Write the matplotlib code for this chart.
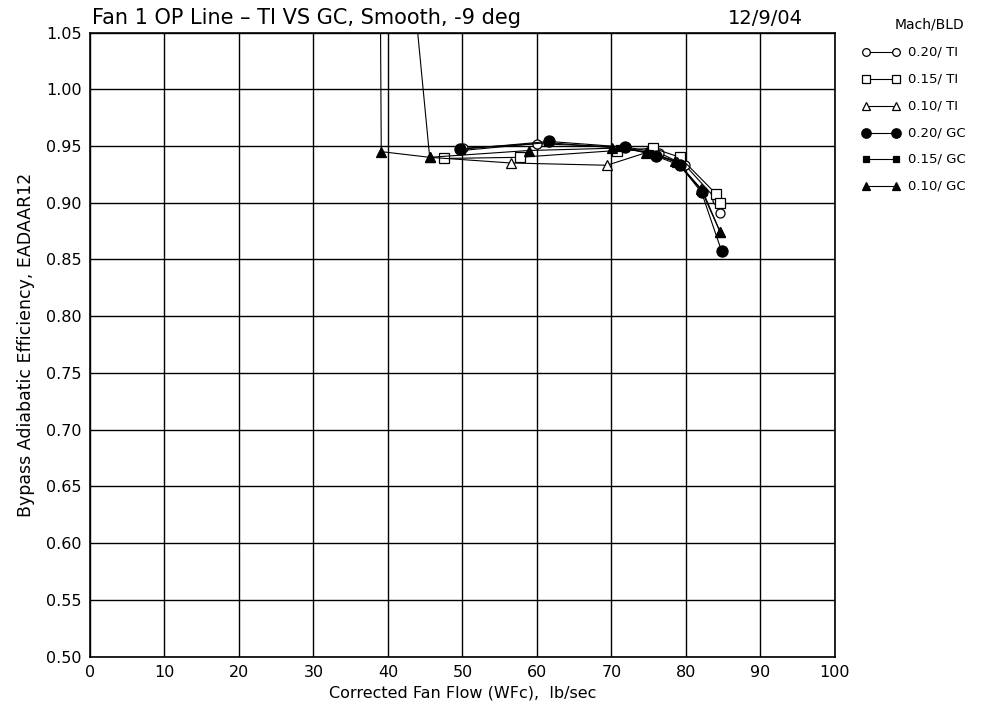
import matplotlib
matplotlib.use("Agg")
import matplotlib.pyplot as plt
from matplotlib.lines import Line2D

# Data (x = corrected fan flow, y = efficiency)
# points above 1.05 are off-scale and only show up as clipped lines
ti20_x = [50.1, 60.0, 72.0, 76.4, 79.9, 84.2, 84.6]
ti20_y = [0.948, 0.952, 0.949, 0.944, 0.933, 0.902, 0.891]

ti15_x = [47.5, 57.7, 70.7, 75.6, 79.2, 84.0, 84.6]
ti15_y = [0.939, 0.940, 0.946, 0.948, 0.940, 0.908, 0.900]

ti10_x = [37.4, 45.6, 56.5, 69.4, 74.6, 78.8, 82.2, 84.6]
ti10_y = [1.50, 0.940, 0.935, 0.933, 0.944, 0.936, 0.911, 0.874]

gc20_x = [49.7, 61.6, 71.8, 76.0, 79.2, 82.1, 84.8]
gc20_y = [0.947, 0.954, 0.949, 0.941, 0.933, 0.909, 0.857]

gc15_x = [49.9, 61.4, 71.0, 75.2, 79.0, 82.2]
gc15_y = [0.946, 0.953, 0.948, 0.944, 0.935, 0.910]

gc10_x = [38.6, 39.1, 45.6, 58.9, 70.1, 74.8, 78.5, 82.0, 84.6]
gc10_y = [1.50, 0.945, 0.940, 0.946, 0.948, 0.945, 0.937, 0.912, 0.874]

labels = ["0.20/ TI", "0.15/ TI", "0.10/ TI", "0.20/ GC", "0.15/ GC", "0.10/ GC"]
x_ticks = list(range(0, 101, 10))
y_ticks = [0.50, 0.55, 0.60, 0.65, 0.70, 0.75, 0.80, 0.85, 0.90, 0.95, 1.00, 1.05]

plt.rcParams['font.family'] = ['DejaVu Sans']

fig = plt.figure(figsize=(9.94, 7.13), dpi=100)
ax = fig.add_axes([0.0905, 0.0792, 0.7495, 0.8752])

styles = [
    dict(marker='o', ms=6.5, mfc='white', mec='black'),
    dict(marker='s', ms=6.5, mfc='white', mec='black'),
    dict(marker='^', ms=7, mfc='white', mec='black'),
    dict(marker='o', ms=8, mfc='black', mec='black'),
    dict(marker='s', ms=4.5, mfc='black', mec='black'),
    dict(marker='^', ms=7, mfc='black', mec='black'),
]
series = [(ti20_x, ti20_y), (ti15_x, ti15_y), (ti10_x, ti10_y),
          (gc20_x, gc20_y), (gc15_x, gc15_y), (gc10_x, gc10_y)]

for (xs, ys), st in zip(series, styles):
    ax.plot(xs, ys, color='black', lw=0.8, mew=0.9, zorder=3, **st)

ax.set_xlim(0, 100)
ax.set_ylim(0.50, 1.05)
ax.set_xticks(x_ticks)
ax.set_yticks(y_ticks)
ax.set_yticklabels([f"{v:.2f}" for v in y_ticks])
ax.grid(True, color='black', lw=1.0)
ax.tick_params(length=0, labelsize=11.5, pad=6)
for sp in ax.spines.values():
    sp.set_linewidth(1.2)

ax.set_xlabel("Corrected Fan Flow (WFc),  lb/sec", fontsize=11.5, labelpad=4)
ax.set_ylabel("Bypass Adiabatic Efficiency, EADAAR12", fontsize=12.5, labelpad=8)

fig.text(92 / 994, 1 - 18 / 713, "Fan 1 OP Line \u2013 TI VS GC, Smooth, -9 deg",
         fontsize=15, va='center', ha='left')
fig.text(803 / 994, 1 - 18 / 713, "12/9/04", fontsize=14, va='center', ha='right')

# legend drawn by hand to the right of the axes
fig.text(930 / 994, 1 - 25 / 713, "Mach/BLD", fontsize=10, ha='center', va='center')
leg_y = [52, 79, 106, 133, 159, 186]
for py, st, lab in zip(leg_y, styles, labels):
    yy = 1 - py / 713
    fig.add_artist(Line2D([866 / 994, 896 / 994], [yy, yy], color='black', lw=0.8,
                          mew=0.9, transform=fig.transFigure,
                          **{k: (v * 0.85 if k == 'ms' else v) for k, v in st.items()}))
    fig.text(908 / 994, yy, lab, fontsize=9.5, va='center', ha='left')

fig.savefig("out.png", dpi=100)
